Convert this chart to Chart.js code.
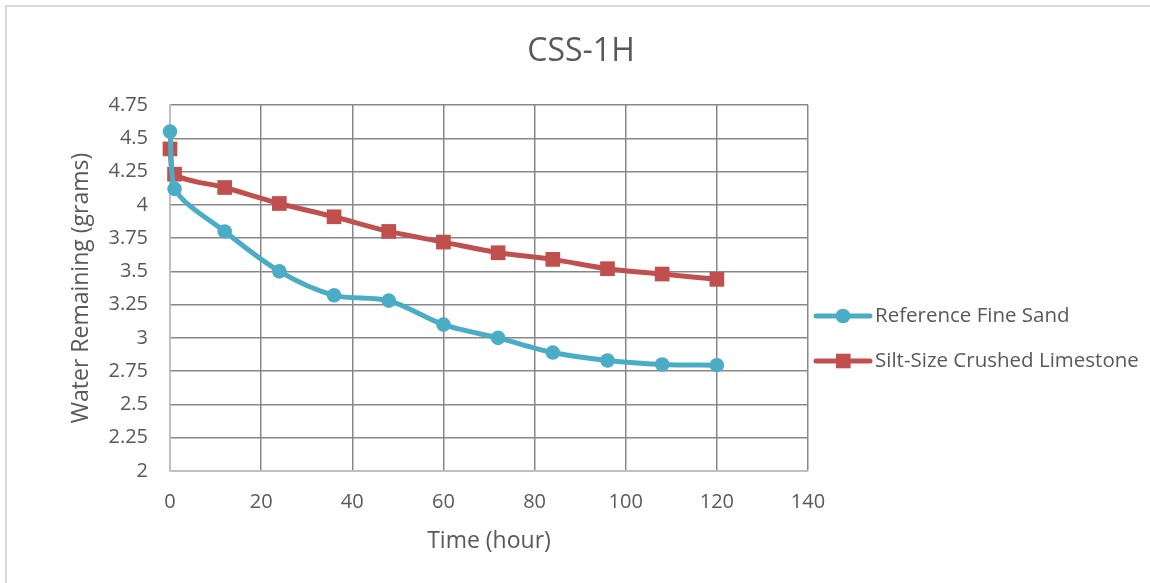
<!DOCTYPE html>
<html>
<head>
<meta charset="utf-8">
<script src="https://cdn.jsdelivr.net/npm/chart.js@4/dist/chart.umd.min.js"></script>
<style>
html,body{margin:0;padding:0;background:#fff;}
#wrap{position:absolute;left:0;top:0;width:1150px;height:583px;}
</style>
</head>
<body>
<div id="wrap"><canvas id="c" width="1150" height="583"></canvas></div>
<script>
const chartTitle = "CSS-1H";
const xAxisTitle = "Time (hour)";
const yAxisTitle = "Water Remaining (grams)";
const timeHours = [0, 1, 12, 24, 36, 48, 60, 72, 84, 96, 108, 120];
const fineSand = [4.55, 4.12, 3.80, 3.50, 3.32, 3.28, 3.10, 3.00, 2.89, 2.83, 2.80, 2.795];
const crushedLimestone = [4.42, 4.23, 4.13, 4.01, 3.91, 3.80, 3.72, 3.64, 3.59, 3.52, 3.48, 3.44];
const seriesNames = ["Reference Fine Sand", "Silt-Size Crushed Limestone"];
const xTicks = [0, 20, 40, 60, 80, 100, 120, 140];
const yTicks = [2, 2.25, 2.5, 2.75, 3, 3.25, 3.5, 3.75, 4, 4.25, 4.5, 4.75];

const FONT = "'Open Sans', 'Liberation Sans', sans-serif";
const TXT = '#595959';
const BLUE = '#4bacc6';
const RED = '#c0504d';

function pts(xs, ys){ return xs.map((x,i)=>({x:x, y:ys[i]})); }

const frame = {
  id:'frame',
  beforeDraw(chart){
    const g = chart.ctx;
    g.save();
    g.fillStyle = '#fff'; g.fillRect(0,0,chart.width,chart.height);
    g.strokeStyle = '#d9d9d9'; g.lineWidth = 2;
    g.strokeRect(6,6,1160,600);
    g.fillStyle = TXT;
    g.font = "32px " + FONT;
    g.textAlign = 'center'; g.textBaseline = 'middle';
    g.fillText(chartTitle, 581, 52);
    g.restore();
  }
};

const customLegend = {
  id:'customLegend',
  afterDraw(chart){
    const g = chart.ctx;
    const a = chart.chartArea;
    const x0 = a.right + 8;
    g.save();
    chart.data.datasets.forEach((d,i)=>{
      const y = a.top + 211 + i*45;
      g.strokeStyle = d.borderColor; g.lineWidth = 5; g.lineCap = 'round';
      g.beginPath(); g.moveTo(x0, y); g.lineTo(x0+54, y); g.stroke();
      g.fillStyle = d.borderColor;
      if (d.pointStyle === 'circle'){ g.beginPath(); g.arc(x0+27, y, 7.3, 0, Math.PI*2); g.fill(); }
      else { g.fillRect(x0+20, y-7.3, 14.6, 14.6); }
      g.fillStyle = TXT;
      g.font = "20.5px " + FONT;
      g.textBaseline = 'middle'; g.textAlign = 'left';
      g.fillText(d.label, x0+59, y);
    });
    g.restore();
  }
};

new Chart(document.getElementById('c'), {
  type: 'scatter',
  data: {
    datasets: [
      { label: seriesNames[0], data: pts(timeHours, fineSand), showLine:true, clip:false,
        borderColor: BLUE, backgroundColor: BLUE, borderWidth: 5,
        pointStyle:'circle', pointRadius: 7.3, pointHoverRadius: 7.3, pointBorderWidth:0,
        tension:0.3 },
      { label: seriesNames[1], data: pts(timeHours, crushedLimestone), showLine:true, clip:false,
        borderColor: RED, backgroundColor: RED, borderWidth: 5,
        pointStyle:'rect', pointRadius: 10.4, pointHoverRadius: 10.4, pointBorderWidth:0,
        tension:0.3 }
    ]
  },
  options: {
    responsive:false, animation:false, devicePixelRatio:1,
    layout:{ padding:{ left:0, right:342, top:105, bottom:0 } },
    plugins:{
      title:{ display:false },
      legend:{ display:false },
      tooltip:{ enabled:false }
    },
    scales:{
      x:{ type:'linear', min:0, max:140,
        afterBuildTicks(ax){ ax.ticks = xTicks.map(v=>({value:v})); },
        afterFit(ax){ ax.height = 112; },
        grid:{ color:'#888888', lineWidth:1.5, drawTicks:false },
        border:{ color:'#bfbfbf', width:1.5 },
        ticks:{ color:TXT, font:{ family:FONT, size:20 }, padding:19, maxRotation:0 },
        title:{ display:true, text:xAxisTitle, color:TXT, font:{ family:FONT, size:23, lineHeight:1.2 }, padding:{ top:0, bottom:28 } }
      },
      y:{ type:'linear', min:2, max:4.75,
        afterBuildTicks(ax){ ax.ticks = yTicks.map(v=>({value:v})); },
        afterFit(ax){ ax.width = 170; },
        grid:{ color:'#888888', lineWidth:1.5, drawTicks:false },
        border:{ color:'#bfbfbf', width:1.5 },
        ticks:{ color:TXT, font:{ family:FONT, size:20 }, padding:22,
          callback:(v)=>String(v) },
        title:{ display:true, text:yAxisTitle, color:TXT, font:{ family:FONT, size:23, lineHeight:1.2 }, padding:{ top:68, bottom:0 } }
      }
    }
  },
  plugins:[frame, customLegend]
});
</script>
</body>
</html>
